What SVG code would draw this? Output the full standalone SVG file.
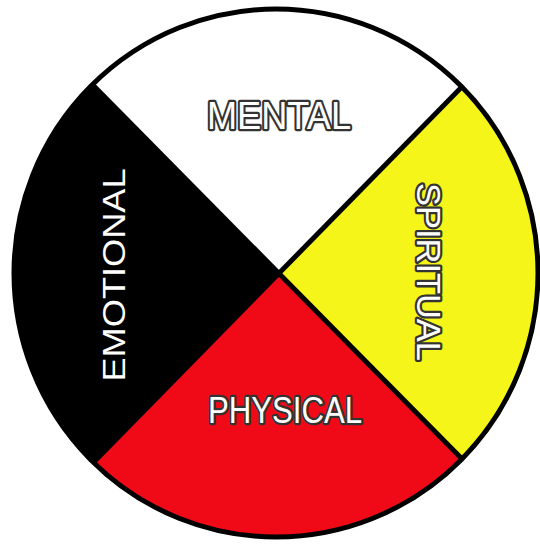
<svg xmlns="http://www.w3.org/2000/svg" width="540" height="544" viewBox="0 0 540 544">
  <defs>
    <clipPath id="wheel">
      <ellipse cx="276" cy="273" rx="262" ry="264"/>
    </clipPath>
  </defs>
  <style>
    .lbl { font-family: "Liberation Sans", Arial, sans-serif; text-anchor: middle; }
    .outl { fill: #ffffff; stroke: #333333; stroke-width: 4.5; paint-order: stroke; stroke-linejoin: round; }
    .divider { stroke: #000; stroke-width: 5; fill: none; }
  </style>
  <rect width="540" height="544" fill="#ffffff"/>
  <g clip-path="url(#wheel)">
    <g id="mental">
      <polygon points="278,272 5,-4 551,-4" fill="#ffffff"/>
    </g>
    <g id="spiritual">
      <polygon points="278,272 551,-4 554,552" fill="#f5f51a"/>
    </g>
    <g id="physical">
      <polygon points="278,272 554,552 6.5,551" fill="#f00a17"/>
    </g>
    <g id="emotional">
      <polygon points="278,272 6.5,551 5,-4" fill="#000000"/>
    </g>
    <g id="dividers">
      <line class="divider" x1="5" y1="-4" x2="554" y2="552"/>
      <line class="divider" x1="551" y1="-4" x2="6.5" y2="551"/>
    </g>
  </g>
  <ellipse cx="276" cy="273" rx="262" ry="264" fill="none" stroke="#000" stroke-width="5"/>
  <g id="labels">
    <text class="lbl outl" x="279" y="129" font-size="38" textLength="144" lengthAdjust="spacingAndGlyphs">MENTAL</text>
    <text class="lbl outl" x="285" y="423" font-size="36" textLength="154" lengthAdjust="spacingAndGlyphs">PHYSICAL</text>
    <text class="lbl" fill="#ffffff" transform="translate(125,275) rotate(-90)" x="0" y="0" font-size="32" textLength="213" lengthAdjust="spacingAndGlyphs">EMOTIONAL</text>
    <text class="lbl outl" transform="translate(417,272) rotate(90)" x="0" y="0" font-size="34" textLength="178" lengthAdjust="spacingAndGlyphs">SPIRITUAL</text>
  </g>
</svg>
